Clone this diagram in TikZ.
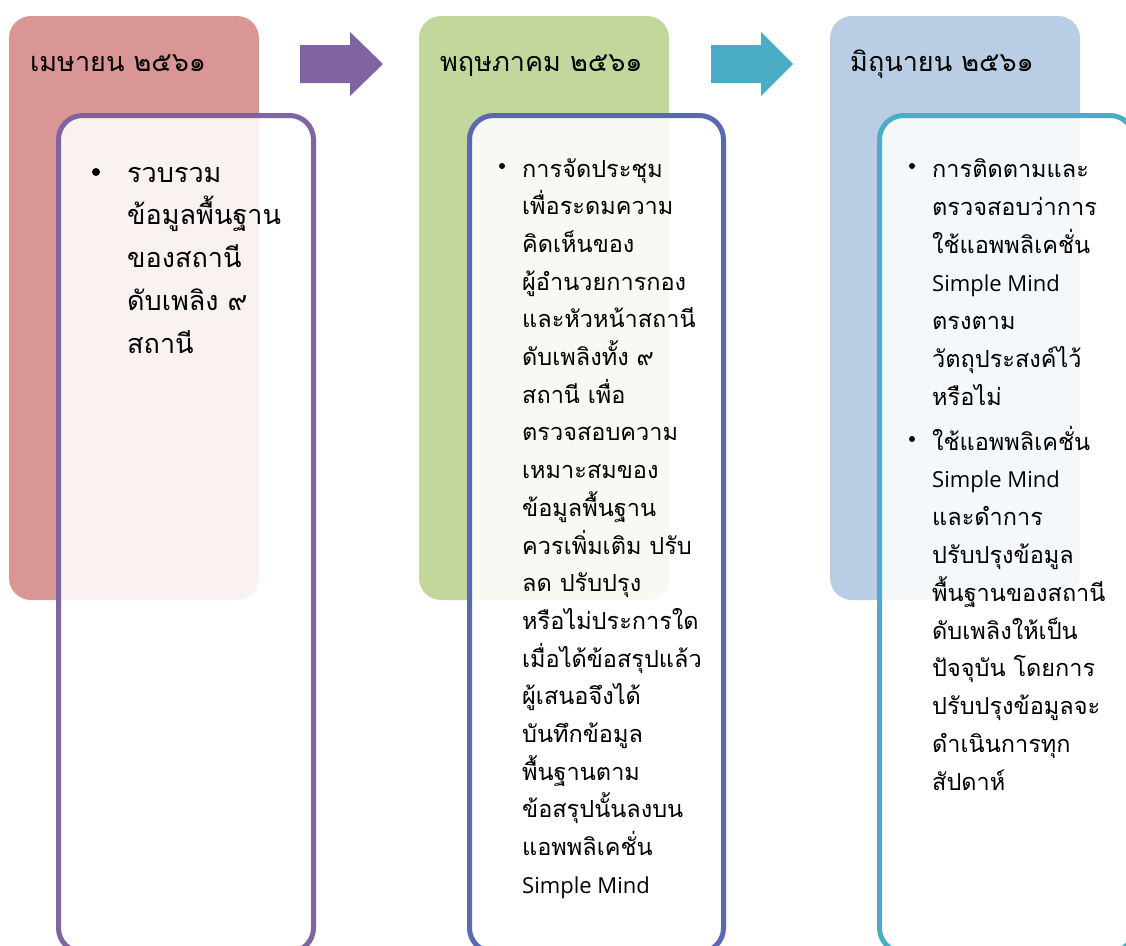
\documentclass[tikz,border=0pt]{standalone}
\usepackage{fontspec}
\newfontfamily\thai[Script=Thai]{Loma}
\newfontfamily\latn{Open Sans}
\definecolor{hdrA}{HTML}{D99694}
\definecolor{hdrB}{HTML}{C3D69B}
\definecolor{hdrC}{HTML}{B9CDE5}
\definecolor{purp}{HTML}{8064A2}
\definecolor{blu}{HTML}{5B68B3}
\definecolor{teal}{HTML}{4BACC6}
\tikzset{
  hdr/.style={rounded corners=22pt},
  inbox/.style={line width=5pt, rounded corners=24pt, fill=white, fill opacity=0.87},
  hdrtext/.style={anchor=base west, inner sep=0pt, font=\thai\fontsize{27}{32}\selectfont},
  bodyA/.style={anchor=base west, inner sep=0pt, font=\thai\fontsize{27}{32}\selectfont},
  body/.style={anchor=base west, inner sep=0pt, font=\thai\fontsize{23.5}{28}\selectfont},
  bul/.style={circle, fill=black, inner sep=0pt},
}
\begin{document}
\begin{tikzpicture}[x=1pt,y=-1pt]
\useasboundingbox (0,0) rectangle (1126,945);
\clip (0,0) rectangle (1126,945);
% header panels
\fill[hdrA, hdr] (9,16) rectangle (259,600);
\fill[hdrB, hdr] (419,16) rectangle (669,600);
\fill[hdrC, hdr] (830,16) rectangle (1080,600);
% headers
\node[hdrtext] (h1) at (30,71) {เมษายน ๒๕๖๑};
\node[hdrtext] (h2) at (440,71) {พฤษภาคม ๒๕๖๑};
\node[hdrtext] (h3) at (850,71) {มิถุนายน ๒๕๖๑};
% arrows
\fill[purp] (300,45) -- (350,45) -- (350,32) -- (383,64) -- (350,96) -- (350,83) -- (300,83) -- cycle;
\fill[teal] (711,45) -- (761,45) -- (761,32) -- (793,64) -- (761,96) -- (761,83) -- (711,83) -- cycle;
% inner boxes
\draw[inbox, draw=purp] (58.5,115.5) rectangle (313.5,952);
\draw[inbox, draw=blu] (469.5,115.5) rectangle (723.5,952);
\draw[inbox, draw=teal] (879.5,115.5) rectangle (1134,952);
% box 1 text
\node[bul, minimum size=8pt] (b1) at (96,172) {};
\foreach \t [count=\i] in {รวบรวม, ข้อมูลพื้นฐาน, ของสถานี, ดับเพลิง ๙, สถานี}
  \node[bodyA] (a\i) at (127,{182+(\i-1)*42.75}) {\t};
% box 2 text
\node[bul, minimum size=6pt] (b2) at (502,166) {};
\foreach \t [count=\i] in {การจัดประชุม, เพื่อระดมความ, คิดเห็นของ, ผู้อำนวยการกอง, และหัวหน้าสถานี, ดับเพลิงทั้ง ๙, สถานี เพื่อ, ตรวจสอบความ, เหมาะสมของ, ข้อมูลพื้นฐาน, ควรเพิ่มเติม ปรับ, ลด ปรับปรุง, หรือไม่ประการใด, เมื่อได้ข้อสรุปแล้ว, ผู้เสนอจึงได้, บันทึกข้อมูล, พื้นฐานตาม, ข้อสรุปนั้นลงบน, แอพพลิเคชั่น}
  \node[body] (m\i) at (522,{177+(\i-1)*37.7}) {\t};
\node[body, font=\latn\fontsize{22}{28}\selectfont] (m20) at (522,893) {Simple Mind};
% box 3 text
\node[bul, minimum size=6pt] (b3) at (912,166) {};
\node[body] (c1) at (932,177) {การติดตามและ};
\node[body] (c2) at (932,215) {ตรวจสอบว่าการ};
\node[body] (c3) at (932,253) {ใช้แอพพลิเคชั่น};
\node[body, font=\latn\fontsize{22}{28}\selectfont] (c4) at (932,291) {Simple Mind};
\node[body] (c5) at (932,329) {ตรงตาม};
\node[body] (c6) at (932,367) {วัตถุประสงค์ไว้};
\node[body] (c7) at (932,405) {หรือไม่};
\node[bul, minimum size=6pt] (b4) at (912,439) {};
\node[body] (d1) at (932,450) {ใช้แอพพลิเคชั่น};
\node[body, font=\latn\fontsize{22}{28}\selectfont] (d2) at (932,487.8) {Simple Mind};
\foreach \t [count=\i from 3] in {และดำการ, ปรับปรุงข้อมูล, พื้นฐานของสถานี, ดับเพลิงให้เป็น, ปัจจุบัน โดยการ, ปรับปรุงข้อมูลจะ, ดำเนินการทุก, สัปดาห์}
  \node[body] (d\i) at (932,{450+(\i-1)*37.8}) {\t};
\end{tikzpicture}
\end{document}
